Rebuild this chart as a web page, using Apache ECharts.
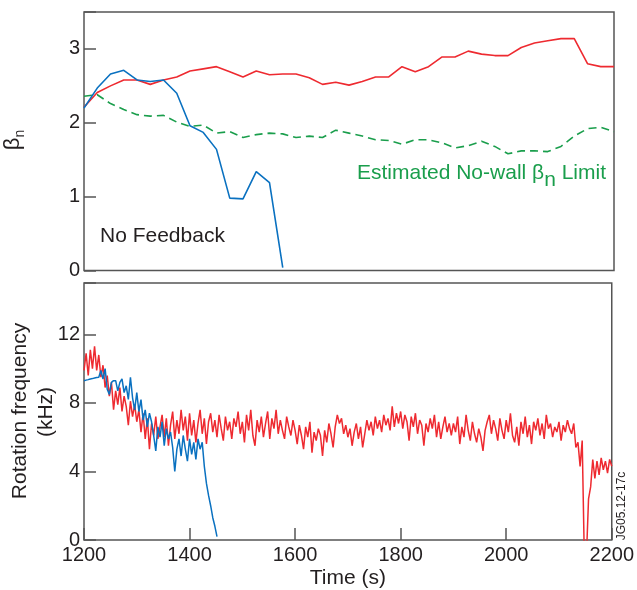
<!DOCTYPE html>
<html><head><meta charset="utf-8">
<script src="https://cdn.jsdelivr.net/npm/echarts@6/dist/echarts.min.js"></script>
<style>html,body{margin:0;padding:0;background:#fff}#c{width:637px;height:590px}</style>
</head><body><div id="c"></div>
<script>
// ---- top panel: beta_n ----
const betaTime = [1200,1225,1250,1275,1300,1325,1350,1375,1400,1425,1450,1475,1500,1525,1550,1575,1600,1625,1650,1675,1700,1725,1750,1775,1800,1825,1850,1875,1900,1925,1950,1975,2000,2025,2050,2075,2100,2125,2150,2175,2200];
const betaFeedback = [2.21,2.41,2.50,2.58,2.58,2.52,2.58,2.62,2.70,2.73,2.76,2.69,2.62,2.70,2.65,2.66,2.66,2.61,2.52,2.55,2.51,2.56,2.62,2.62,2.76,2.69,2.76,2.89,2.89,2.97,2.93,2.91,2.91,3.02,3.08,3.11,3.14,3.14,2.80,2.76,2.76];
const betaNoWallLimit = [2.36,2.38,2.26,2.18,2.11,2.09,2.10,2.01,1.95,1.97,1.86,1.88,1.80,1.84,1.86,1.85,1.80,1.82,1.80,1.90,1.86,1.82,1.77,1.76,1.71,1.77,1.77,1.73,1.66,1.69,1.75,1.68,1.58,1.62,1.62,1.61,1.68,1.82,1.92,1.94,1.88];
const betaNoFbTime = [1200,1225,1250,1275,1300,1325,1350,1375,1400,1425,1450,1475,1500,1525,1550,1575];
const betaNoFeedback = [2.20,2.47,2.66,2.71,2.58,2.56,2.58,2.40,1.96,1.87,1.64,0.98,0.97,1.34,1.19,0.04];

// ---- bottom panel: rotation frequency (kHz), sampled every 4 s from 1200 s ----
const rotStart = 1200, rotStep = 4;
const rotFeedback = [
9.9,10.9,9.6,11.1,10.0,11.3,9.9,10.8,9.5,10.2,8.9,9.6,8.4,9.2,7.6,8.7,7.9,8.9,7.5,8.4,7.8,6.7,8.1,7.2,7.9,
6.9,7.6,6.3,7.4,5.9,7.1,5.3,6.8,6.1,7.2,5.9,6.6,7.3,6.0,7.1,5.5,6.7,7.5,5.9,7.0,6.2,7.6,6.4,7.2,5.8,
7.4,6.1,7.0,5.7,6.8,7.6,6.2,7.1,5.6,6.9,7.4,6.3,7.0,6.0,7.3,6.5,5.8,7.2,6.4,6.9,5.9,7.1,6.6,7.5,6.2,
6.9,5.7,7.3,6.4,7.6,6.1,5.5,7.0,6.3,7.2,6.0,6.8,7.5,5.9,7.1,6.5,7.6,6.2,7.0,6.4,5.9,7.2,6.6,6.1,7.0,
6.4,5.6,6.7,6.1,5.3,6.6,6.0,6.9,5.1,6.3,5.8,6.5,6.1,4.9,6.4,5.7,6.8,6.2,5.4,6.6,7.3,6.8,7.1,6.2,6.7,
6.0,6.5,5.5,6.3,6.8,5.9,6.6,5.4,6.2,7.0,6.4,6.9,6.1,7.2,6.5,7.0,6.3,7.3,6.7,7.1,6.4,7.8,6.6,7.4,6.8,
7.5,6.5,7.3,6.9,5.8,7.2,6.6,7.4,6.2,7.0,6.7,5.5,6.8,6.3,7.1,6.5,7.3,6.0,6.9,5.9,6.6,7.2,6.3,6.8,6.1,
6.8,6.3,7.2,5.6,6.6,6.0,7.3,6.4,5.8,6.9,6.2,5.7,6.5,6.0,5.2,6.4,6.9,7.3,6.2,7.0,6.5,5.8,7.1,6.4,5.9,
7.0,6.3,7.4,6.1,5.7,6.6,5.5,6.9,6.2,7.2,6.0,6.7,5.6,6.9,6.4,7.1,6.1,6.8,5.9,7.3,6.5,6.8,6.0,6.6,6.3,
6.9,5.8,6.7,6.3,7.0,6.5,6.2,6.8,5.4,5.7,4.3,5.8,-1.0,-1.0,2.4,3.1,4.7,3.6,4.6,3.8,4.8,4.1,4.6,3.9,4.7,
4.3];
const rotNoFeedback = [
9.3,9.33,9.36,9.4,9.42,9.45,9.48,9.5,
9.9,9.4,10.0,8.8,8.5,9.2,9.3,9.3,8.7,9.2,9.4,8.6,9.0,8.2,9.5,8.3,7.6,
8.6,7.5,8.2,7.0,7.6,6.6,7.4,6.9,6.1,5.2,6.6,6.0,6.9,5.5,6.5,5.9,6.3,5.4,4.0,5.3,5.9,4.9,6.1,5.3,4.6,
5.9,5.0,5.7,4.7,5.9,5.3,5.7,4.3,3.3,2.6,2.0,1.3,0.8,0.2];

const xTickLabels = ['1200','1400','1600','1800','2000','2200'];

const RED = '#ee2a30', BLUE = '#0a71c0', GREEN = '#1a9e4c', FRAME = '#555', TXT = '#231f20';
const FONT = '"Liberation Sans", Arial, sans-serif';

const pairs = (ts, vs) => vs.map((v, i) => [ts[i], v]);
const sampled = vs => vs.map((v, i) => [rotStart + i * rotStep, v]);

const chart = echarts.init(document.getElementById('c'), null, {renderer: 'canvas'});
chart.setOption({
  animation: false,
  backgroundColor: '#fff',
  textStyle: {fontFamily: FONT},
  grid: [
    {left: 84, right: 23, top: 12, height: 258.5, show: true, borderColor: FRAME, borderWidth: 1.5, backgroundColor: 'transparent'},
    {left: 84, right: 23, top: 283, height: 257.5, show: true, borderColor: FRAME, borderWidth: 1.5, backgroundColor: 'transparent'}
  ],
  xAxis: [
    {type: 'value', gridIndex: 0, min: 1200, max: 2200, interval: 200,
      axisLine: {show: false}, axisTick: {show: false}, axisLabel: {show: false}, splitLine: {show: false}},
    {type: 'value', gridIndex: 1, min: 1200, max: 2200, interval: 200,
      axisLine: {show: false},
      axisTick: {show: true, inside: true, length: 12, lineStyle: {color: FRAME, width: 1.5}},
      axisLabel: {show: true, margin: 5, fontSize: 20, color: TXT, fontFamily: FONT,
        formatter: v => xTickLabels[Math.round((v - 1200) / 200)] || ''},
      splitLine: {show: false},
      name: 'Time (s)', nameLocation: 'middle', nameGap: 28,
      nameTextStyle: {fontSize: 21, color: TXT, fontFamily: FONT}}
  ],
  yAxis: [
    {type: 'value', gridIndex: 0, min: 0, max: 3.5, interval: 1,
      axisLine: {show: false},
      axisTick: {show: true, inside: true, length: 12, lineStyle: {color: FRAME, width: 1.5}},
      axisLabel: {margin: 4, fontSize: 20, color: TXT, fontFamily: FONT,
        formatter: v => (Number.isInteger(v) ? String(v) : '')},
      splitLine: {show: false}},
    {type: 'value', gridIndex: 1, min: 0, max: 15, interval: 4,
      axisLine: {show: false},
      axisTick: {show: true, inside: true, length: 12, lineStyle: {color: FRAME, width: 1.5}},
      axisLabel: {margin: 4, fontSize: 20, color: TXT, fontFamily: FONT,
        formatter: v => (v % 4 === 0 ? String(v) : '')},
      splitLine: {show: false}}
  ],
  series: [
    {type: 'line', xAxisIndex: 0, yAxisIndex: 0, data: pairs(betaTime, betaNoWallLimit), symbol: 'none',
      lineStyle: {color: GREEN, width: 1.6, type: [8, 5]}},
    {type: 'line', xAxisIndex: 0, yAxisIndex: 0, data: pairs(betaTime, betaFeedback), symbol: 'none',
      lineStyle: {color: RED, width: 1.6}},
    {type: 'line', xAxisIndex: 0, yAxisIndex: 0, data: pairs(betaNoFbTime, betaNoFeedback), symbol: 'none',
      lineStyle: {color: BLUE, width: 1.6}},
    {type: 'line', xAxisIndex: 1, yAxisIndex: 1, data: sampled(rotFeedback), symbol: 'none', clip: true,
      lineStyle: {color: RED, width: 1.5}},
    {type: 'line', xAxisIndex: 1, yAxisIndex: 1, data: sampled(rotNoFeedback), symbol: 'none', clip: true,
      lineStyle: {color: BLUE, width: 1.5}}
  ],
  graphic: [
    {type: 'text', x: 20, y: 140, rotation: Math.PI / 2,
      style: {text: '{b|β}{s|n}', textAlign: 'center', textVerticalAlign: 'middle', fill: TXT,
        rich: {b: {fontSize: 22, fontFamily: FONT, fill: TXT, color: TXT, lineHeight: 24, verticalAlign: 'top'},
               s: {fontSize: 14, fontFamily: FONT, fill: TXT, color: TXT, lineHeight: 36}}}},
    {type: 'text', x: 20, y: 411, rotation: Math.PI / 2,
      style: {text: 'Rotation frequency', font: '21px ' + FONT, fill: TXT, textAlign: 'center', textVerticalAlign: 'middle'}},
    {type: 'text', x: 46, y: 412, rotation: Math.PI / 2,
      style: {text: '(kHz)', font: '21px ' + FONT, fill: TXT, textAlign: 'center', textVerticalAlign: 'middle'}},
    {type: 'text', x: 100, y: 236,
      style: {text: 'No Feedback', font: '21px ' + FONT, fill: TXT, textAlign: 'left', textVerticalAlign: 'middle'}},
    {type: 'text', x: 357, y: 180,
      style: {text: '{t|Estimated No-wall β}{s|n}{t| Limit}', textAlign: 'left', textVerticalAlign: 'middle', fill: GREEN,
        rich: {t: {fontSize: 21, fontFamily: FONT, fill: GREEN, color: GREEN, lineHeight: 22, verticalAlign: 'top'},
               s: {fontSize: 21, fontFamily: FONT, fill: GREEN, color: GREEN, lineHeight: 34}}}},
    {type: 'text', x: 622, y: 506, rotation: Math.PI / 2,
      style: {text: 'JG05.12-17c', font: '12px ' + FONT, fill: TXT, textAlign: 'center', textVerticalAlign: 'middle'}}
  ]
});
</script></body></html>
